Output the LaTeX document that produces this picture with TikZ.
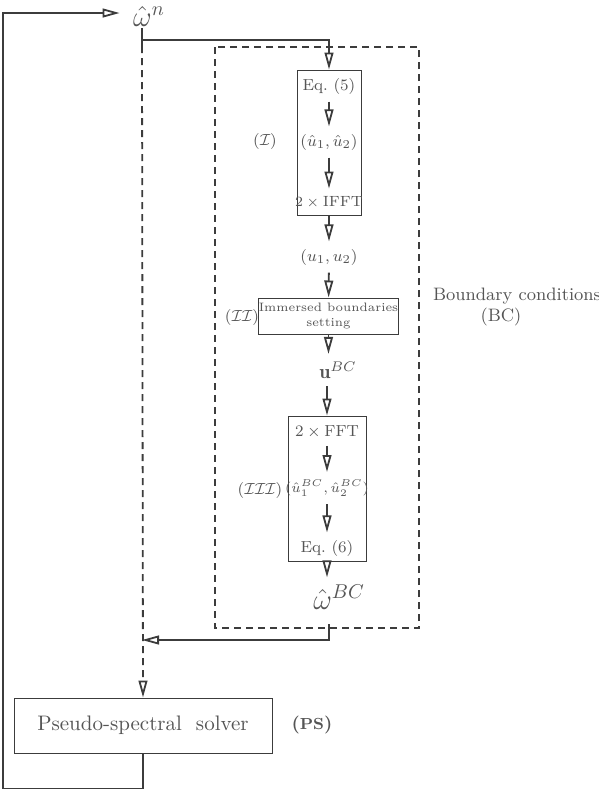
\documentclass[tikz,border=0pt]{standalone}
\usepackage{amsmath, amssymb}
\usepackage{fontspec}
\usepackage{tikz}
\usetikzlibrary{arrows.meta,fit}
\definecolor{ink}{RGB}{60,60,60}
\definecolor{txt}{RGB}{85,85,85}

\begin{document}
\begin{tikzpicture}[x=0.5pt, y=-0.5pt, >={Triangle[open,length=8.5pt,width=4.4pt]},
    ink, text=txt, line width=0.9pt,
    blk/.style={draw, line width=0.5pt, inner sep=0pt},
    sml/.style={font=\fontsize{8}{9.6}\selectfont},
    lab/.style={font=\fontsize{8}{9.6}\selectfont, inner sep=1pt},
    bnd/.style={dash pattern=on 3.5pt off 2.5pt}]
    \useasboundingbox (0,0) rectangle (599,789);

    \node[font=\Large] (wn) at (149,16) {$\hat{\omega}^n$};
    \coordinate (wtop) at (142,28);
    \coordinate (split) at (142,40);
    \coordinate (dstart) at (142,46);
    \coordinate (loop) at (3,13);
    \coordinate (bctick) at (329,624);
    \coordinate (merge) at (142,640);

    \draw[bnd] (215,47) rectangle (419,628);
    \node[font=\fontsize{9}{11}\selectfont] (bctxt) at (517,296) {Boundary conditions};
    \node[font=\fontsize{9}{11}\selectfont] (bcabbr) at (501,317) {(BC)};

    \node[blk, fit={(297,70) (361,215)}] (boxI) {};
    \node[sml] (eq5) at (329,86) {Eq.~(5)};
    \node[sml] (uh) at (329,142) {$(\hat u_1,\hat u_2)$};
    \node[font=\fontsize{7.4}{9}\selectfont] (ifft) at (329,202) {$2\times\text{IFFT}$};
    \node[lab] (labI) at (265,141) {$(\mathcal{I})$};
    \draw[->] (eq5) -- (uh);
    \draw[->] (uh) -- (ifft);

    \node[sml] (u12) at (329,257) {$(u_1,u_2)$};
    \node[blk, minimum width=67.5pt, minimum height=18pt, align=center,
        font=\fontsize{6.1}{7.6}\selectfont] (boxII) at (328.5,316) {Immersed boundaries\\setting};
    \node[lab] (labII) at (242,317) {$(\mathcal{II})$};
    \node[font=\fontsize{10}{12}\selectfont] (ubc) at (338,370) {$\mathbf{u}^{BC}$};

    \node[blk, fit={(288,416) (366,561)}] (boxIII) {};
    \node[sml] (fft) at (327,432) {$2\times\text{FFT}$};
    \node[font=\fontsize{7.1}{9}\selectfont] (uhbc) at (327,488) {$(\hat u_1^{BC},\hat u_2^{BC})$};
    \node[sml] (eq6) at (327,548) {Eq.~(6)};
    \node[lab] (labIII) at (260,490) {$(\mathcal{III})$};
    \draw[->] (fft) -- (uhbc);
    \draw[->] (uhbc) -- (eq6);
    \node[font=\Large] (wbc) at (339,597) {$\hat{\omega}^{BC}$};

    \draw[->] (boxI) -- (u12);
    \draw[->] (u12) -- (boxII);
    \draw[->] (boxII) -- (boxII |- ubc.north);
    \draw[->] (boxIII |- ubc.south) -- (boxIII);
    \draw[->] (boxIII) -- (boxIII |- wbc.north);

    \node[draw, line width=0.5pt, minimum width=129pt, minimum height=27.5pt,
        font=\fontsize{10.5}{12}\selectfont] (ps) at (143,725.5) {Pseudo-spectral\ \ solver};
    \node[font=\fontsize{9}{11}\selectfont] (pslbl) at (312,725) {\textbf{({\footnotesize PS})}};

    \draw (wtop) -- (dstart);
    \draw[->] (split) -| (boxI.north);
    \draw[->, bnd] (dstart) -- (ps.north);
    \draw[->] (bctick) |- (merge);
    \draw[->, shorten >=3pt] (ps.south) -- ++(0,35) -| (loop) -- (loop -| wn.west);
\end{tikzpicture}
\end{document}
